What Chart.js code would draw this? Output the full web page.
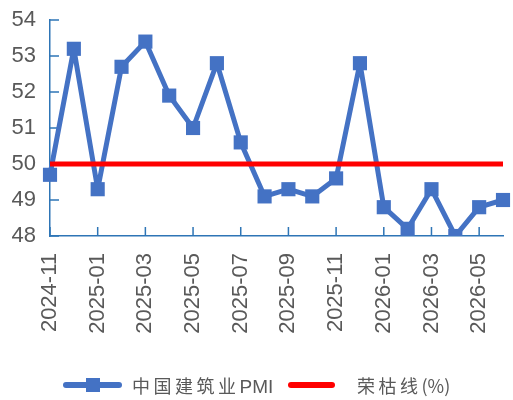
<!DOCTYPE html>
<html lang="zh">
<head>
    <meta charset="UTF-8">
    <title>中国建筑业PMI</title>
    <script src="https://cdn.jsdelivr.net/npm/chart.js"></script>
    <style>
        body {
            margin: 0;
            background: #fff;
        }
        .wrap {
            position: relative;
            width: 513px;
            height: 400px;
        }
        .legend-item {
            position: absolute;
            top: 373px;
            height: 24px;
            line-height: 24px;
            font-family: 'Noto Sans CJK SC', sans-serif;
            font-size: 18px;
            color: #595959;
            white-space: nowrap;
        }
        .cjk {
            letter-spacing: 3.5px;
        }
        .latin {
            font-family: 'Liberation Sans', sans-serif;
            font-size: 19px;
        }
        .bar {
            position: absolute;
            top: 9px;
            height: 6px;
            border-radius: 3px;
        }
        .box {
            position: absolute;
            top: 5px;
            width: 14px;
            height: 14px;
            background: #4472c4;
        }
    </style>
</head>
<body>
    <div class="wrap">
        <canvas id="pmiChart"></canvas>
        <div class="legend-item" style="left: 63px; width: 59px;">
            <div class="bar" style="left: 0; width: 59px; background: #4472c4;"></div>
            <div class="box" style="left: 23px;"></div>
        </div>
        <div class="legend-item" style="left: 132px;"><span class="cjk">中国建筑业</span><span class="latin">PMI</span></div>
        <div class="legend-item" style="left: 288px; width: 47px;">
            <div class="bar" style="left: 0; width: 47px; background: #ff0000;"></div>
        </div>
        <div class="legend-item" style="left: 357px;"><span class="cjk">荣枯线</span>(%)</div>
    </div>

    <script>
        // 月份
        const months = [
            '2024-11', '2024-12', '2025-01', '2025-02', '2025-03', '2025-04', '2025-05',
            '2025-06', '2025-07', '2025-08', '2025-09', '2025-10', '2025-11', '2025-12',
            '2026-01', '2026-02', '2026-03', '2026-04', '2026-05', '2026-06'
        ];

        // 中国建筑业PMI
        const pmi = [
            49.7, 53.2, 49.3, 52.7, 53.4, 51.9, 51.0, 52.8, 50.6, 49.1,
            49.3, 49.1, 49.6, 52.8, 48.8, 48.2, 49.3, 48.0, 48.8, 49.0
        ];

        // 荣枯线
        const rongku = months.map(() => 50);

        const yMin = 48;
        const yMax = 54;

        const axisColor = '#2e75b6';
        const textColor = '#595959';

        // 坐标轴刻度线朝内
        const innerTicks = {
            id: 'innerTicks',
            beforeDatasetsDraw(chart) {
                const { ctx, scales: { x, y } } = chart;
                ctx.save();
                ctx.strokeStyle = axisColor;
                ctx.lineWidth = 1.5;
                ctx.beginPath();
                y.ticks.forEach((t, i) => {
                    const py = y.getPixelForTick(i);
                    ctx.moveTo(x.left, py);
                    ctx.lineTo(x.left + 9, py);
                });
                months.forEach((m, i) => {
                    if (i % 2 === 0) {
                        const px = x.getPixelForValue(i);
                        ctx.moveTo(px, y.bottom);
                        ctx.lineTo(px, y.bottom - 9);
                    }
                });
                ctx.stroke();
                ctx.restore();
            }
        };

        const ctx = document.getElementById('pmiChart').getContext('2d');
        new Chart(ctx, {
            type: 'line',
            data: {
                labels: months,
                datasets: [
                    {
                        label: '中国建筑业PMI',
                        data: pmi,
                        borderColor: '#4472c4',
                        backgroundColor: '#4472c4',
                        borderWidth: 5,
                        borderJoinStyle: 'round',
                        pointStyle: 'rect',
                        pointRadius: 10,
                        pointBorderWidth: 0,
                        tension: 0,
                        order: 1
                    },
                    {
                        label: '荣枯线(%)',
                        data: rongku,
                        borderColor: '#ff0000',
                        backgroundColor: '#ff0000',
                        borderWidth: 5,
                        pointRadius: 0,
                        order: 0
                    }
                ]
            },
            options: {
                responsive: true,
                maintainAspectRatio: false,
                animation: false,
                layout: {
                    padding: { left: 10, right: 6, top: 20, bottom: 64 }
                },
                plugins: {
                    legend: { display: false },
                    tooltip: { enabled: false }
                },
                scales: {
                    x: {
                        grid: { display: false, drawTicks: false },
                        border: { color: axisColor, width: 1.5 },
                        ticks: {
                            autoSkip: false,
                            minRotation: 90,
                            maxRotation: 90,
                            padding: 17,
                            color: textColor,
                            font: { family: 'Liberation Sans', size: 22 },
                            callback: (v, i) => (i % 2 === 0 ? months[i] : '')
                        },
                        afterFit: (scale) => {
                            scale.height = 100;
                            scale.paddingLeft = 0;
                            scale.paddingRight = 0;
                        }
                    },
                    y: {
                        min: yMin,
                        max: yMax,
                        grid: { display: false, drawTicks: false },
                        border: { color: axisColor, width: 1.5 },
                        ticks: {
                            stepSize: 1,
                            padding: 14,
                            color: textColor,
                            font: { family: 'Liberation Sans', size: 22 }
                        },
                        afterFit: (scale) => {
                            scale.width = 40;
                            scale.paddingTop = 0;
                            scale.paddingBottom = 0;
                        }
                    }
                }
            },
            plugins: [innerTicks]
        });
    </script>
</body>
</html>
